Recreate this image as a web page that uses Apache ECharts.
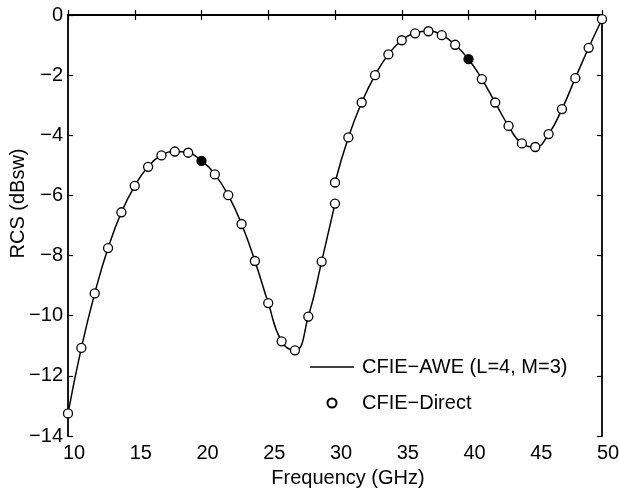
<!DOCTYPE html>
<html>
<head>
<meta charset="utf-8">
<script src="https://cdn.jsdelivr.net/npm/echarts@6/dist/echarts.min.js"></script>
<style>
html,body{margin:0;padding:0;background:#fff;}
#chart{width:619px;height:495px;}
</style>
</head>
<body>
<div id="chart"></div>
<script>
// Low-band AWE expansion segment (10-30 GHz)
var freqLow = [10,11,12,13,14,15,16,17,18,19,20,21,22,23,24,25,26,27,28,29,30];
var rcsLow  = [-13.25,-11.07,-9.26,-7.75,-6.56,-5.68,-5.05,-4.67,-4.54,-4.58,-4.85,-5.30,-5.99,-6.95,-8.18,-9.58,-10.85,-11.15,-10.03,-8.20,-6.27];
// High-band AWE expansion segment (30-50 GHz)
var freqHigh = [30,31,32,33,34,35,36,37,38,39,40,41,42,43,44,45,46,47,48,49,50];
var rcsHigh  = [-5.57,-4.07,-2.91,-2.00,-1.31,-0.84,-0.61,-0.54,-0.67,-0.99,-1.47,-2.13,-2.91,-3.69,-4.27,-4.39,-3.96,-3.13,-2.10,-1.09,-0.14];
// Expansion frequencies (filled markers)
var expansionPoints = [20, 40];
var xTicks = [10,15,20,25,30,35,40,45,50];
var yTicks = [-14,-12,-10,-8,-6,-4,-2,0];
var lineName = 'CFIE\u2212AWE (L=4, M=3)';
var dotName = 'CFIE\u2212Direct';

function pairs(xs, ys){ return xs.map(function(x,i){ return [x, ys[i]]; }); }
var directPts = pairs(freqLow, rcsLow).concat(pairs(freqHigh, rcsHigh)).map(function(p){
  var filled = expansionPoints.indexOf(p[0]) >= 0;
  return filled ? {value:p, itemStyle:{color:'#000', borderColor:'#000'}} : p;
});

var FONT = 'Liberation Sans, Arial, Helvetica, sans-serif';
var chart = echarts.init(document.getElementById('chart'));
var axisLine = {show:true, lineStyle:{color:'#000', width:1.8}};
var tick = {show:true, inside:true, length:5, lineStyle:{color:'#000', width:1.2}};
chart.setOption({
  animation:false,
  backgroundColor:'#fff',
  grid:{left:68, right:17, top:15, bottom:59, show:false, containLabel:false, outerBoundsMode:'none'},
  legend:{
    orient:'vertical', left:305, top:352, itemWidth:44, itemHeight:9, itemGap:16,
    textStyle:{fontFamily:FONT, fontSize:20, color:'#000', padding:[0,0,0,3]},
    data:[{name:lineName, icon:'path://M0,0 L44,0 L44,1.5 L0,1.5 Z'}, {name:dotName}]
  },
  xAxis:[{
    type:'value', min:10, max:50, interval:5, position:'bottom',
    axisLine:axisLine, axisTick:tick, splitLine:{show:false},
    axisLabel:{fontFamily:FONT, fontSize:20, color:'#000', margin:7, padding:[0,0,0,12]},
    name:'Frequency (GHz)', nameLocation:'middle', nameGap:32, nameMoveOverlap:false,
    nameTextStyle:{fontFamily:FONT, fontSize:20, color:'#000', padding:[0,0,0,26]}
  },{
    type:'value', min:10, max:50, interval:5, position:'top',
    axisLine:axisLine, axisTick:tick, axisLabel:{show:false}, splitLine:{show:false}
  }],
  yAxis:[{
    type:'value', min:-14, max:0, interval:2, position:'left',
    axisLine:axisLine, axisTick:tick, splitLine:{show:false},
    axisLabel:{fontFamily:FONT, fontSize:20, color:'#000', margin:5,
      formatter:function(v){ return v < 0 ? '\u2212' + Math.abs(v) : String(v); }},
    name:'RCS (dBsw)', nameLocation:'middle', nameGap:40, nameRotate:90, nameMoveOverlap:false,
    nameTextStyle:{fontFamily:FONT, fontSize:20, color:'#000', padding:[0,0,0,44]}
  },{
    type:'value', min:-14, max:0, interval:2, position:'right',
    axisLine:axisLine, axisTick:tick, axisLabel:{show:false}, splitLine:{show:false}
  }],
  series:[{
    name:lineName, type:'line', data:pairs(freqLow, rcsLow), smooth:true,
    symbol:'none', lineStyle:{color:'#000', width:1.5}, itemStyle:{color:'#000'}, z:2
  },{
    name:lineName, type:'line', data:pairs(freqHigh, rcsHigh), smooth:true,
    symbol:'none', lineStyle:{color:'#000', width:1.5}, itemStyle:{color:'#000'}, z:2
  },{
    name:dotName, type:'scatter', data:directPts, symbol:'circle', symbolSize:9,
    itemStyle:{color:'#fff', borderColor:'#000', borderWidth:1.3, opacity:1}, z:3
  }]
});
</script>
</body>
</html>
